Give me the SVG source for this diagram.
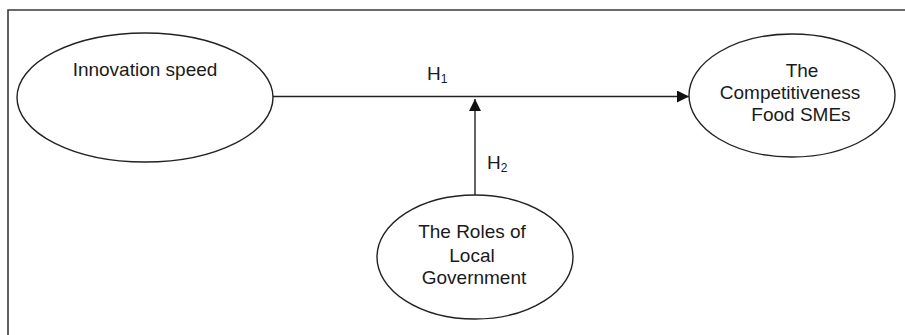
<svg xmlns="http://www.w3.org/2000/svg" width="905" height="335" viewBox="0 0 905 335">
<style>
.frame{fill:none;stroke:#3a3a3a;stroke-width:1.6}
.node{fill:#fff;stroke:#222;stroke-width:1.4}
.edge{fill:none;stroke:#222;stroke-width:1.4}
text{font-family:"Liberation Sans",Arial,sans-serif;font-size:19px;fill:#1a1a1a}
.sub{font-size:12px}
</style>
<defs>
<marker id="arrow" viewBox="0 0 12 12" refX="12" refY="6" markerWidth="12" markerHeight="12" markerUnits="userSpaceOnUse" orient="auto">
<path d="M0,0 L12,6 L0,12 Z" fill="#111"/>
</marker>
</defs>
<rect width="905" height="335" fill="#fff"/>
<path class="frame" d="M8,335 V10 H905"/>
<g id="connectors">
<line class="edge" x1="273" y1="96.5" x2="689" y2="96.5" marker-end="url(#arrow)"/>
<line class="edge" x1="475" y1="195" x2="475" y2="99" marker-end="url(#arrow)"/>
<text x="427" y="80">H<tspan class="sub" dy="3">1</tspan></text>
<text x="487" y="169">H<tspan class="sub" dy="3">2</tspan></text>
</g>
<g id="innovation-speed">
<ellipse class="node" cx="145" cy="97.5" rx="128" ry="64.5"/>
<text x="145" y="76" text-anchor="middle">Innovation speed</text>
</g>
<g id="competitiveness">
<ellipse class="node" cx="792" cy="95.5" rx="103" ry="61.5"/>
<text x="802" y="77" text-anchor="middle">The</text>
<text x="790" y="99" text-anchor="middle">Competitiveness</text>
<text x="801" y="121" text-anchor="middle">Food SMEs</text>
</g>
<g id="local-government">
<ellipse class="node" cx="475" cy="257" rx="98" ry="62"/>
<text x="472" y="238" text-anchor="middle">The Roles of</text>
<text x="472" y="262" text-anchor="middle">Local</text>
<text x="474" y="284" text-anchor="middle">Government</text>
</g>
</svg>
